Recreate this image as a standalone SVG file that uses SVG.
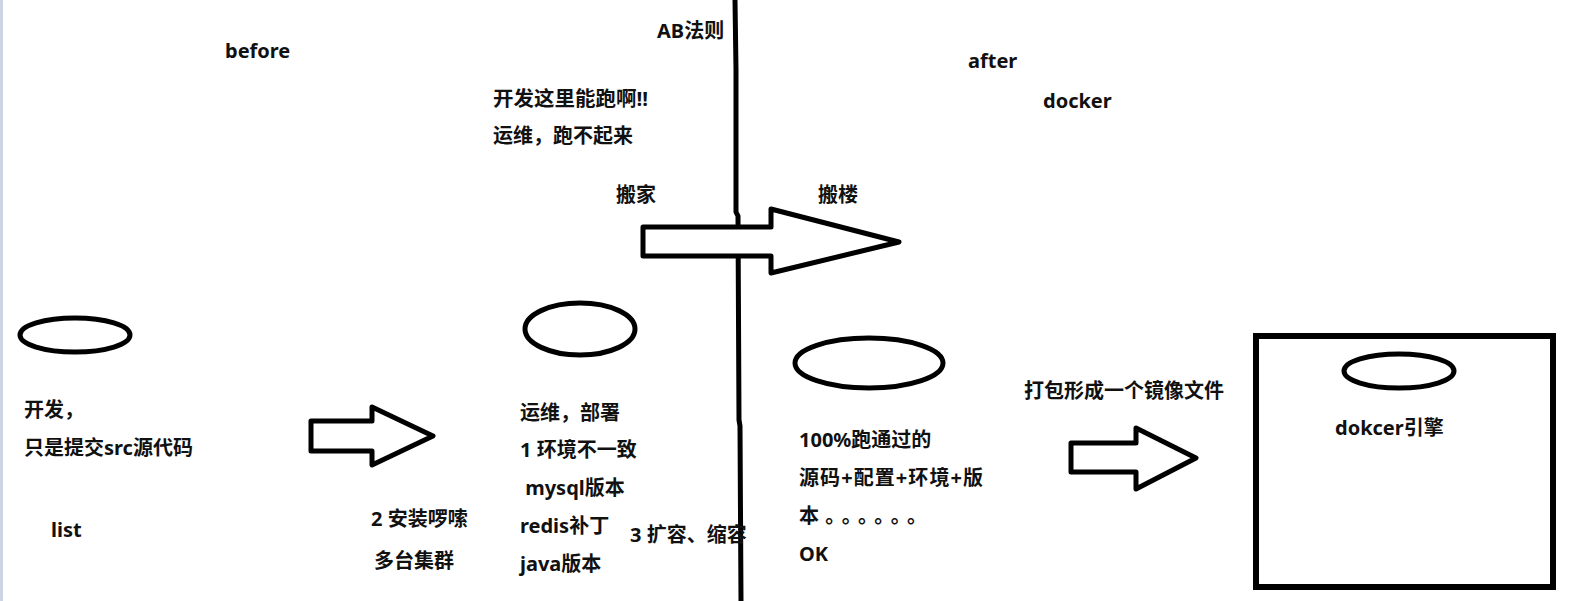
<svg xmlns="http://www.w3.org/2000/svg" width="1576" height="601" viewBox="0 0 1576 601">
<style>
text{font-family:"Noto Sans","Noto Sans CJK SC",sans-serif;font-weight:bold;font-size:20px;fill:#111}
.sh{fill:#fff;stroke:#000;stroke-width:5;stroke-linejoin:round}
.ln{fill:none;stroke:#000;stroke-width:5}
</style>
<rect x="0" y="0" width="1576" height="601" fill="#fff"/>
<rect x="0" y="0" width="3" height="601" fill="#cdd5e5"/>
<g id="labels-top">
<text x="225" y="58">before</text>
<text x="657" y="38">AB法则</text>
<text x="493" y="106" textLength="155" lengthAdjust="spacingAndGlyphs">开发这里能跑啊!!</text>
<text x="493" y="143">运维，跑不起来</text>
<text x="616" y="202">搬家</text>
<text x="818" y="202">搬楼</text>
<text x="968" y="68">after</text>
<text x="1043" y="108">docker</text>
</g>
<g id="connectors">
<path class="ln" d="M735,0 L736,70 L736,212 L738,216 L739,420 L740,426 L741,601"/>
<polygon class="sh" points="643,227 771,227 771,209 899,242 771,273 771,256 643,256"/>
<polygon class="sh" points="311,421 372,421 372,407 433,436 372,465 372,451 311,451"/>
<polygon class="sh" points="1071,443 1136,443 1136,428 1196,458 1136,489 1136,472 1071,472"/>
</g>
<g id="dev">
<ellipse class="sh" cx="75" cy="335" rx="55" ry="17"/>
<text x="24" y="417">开发，</text>
<text x="24" y="455">只是提交src源代码</text>
<text x="51" y="537">list</text>
</g>
<g id="install">
<text x="371" y="526">2 安装啰嗦</text>
<text x="374" y="568">多台集群</text>
</g>
<g id="ops">
<ellipse class="sh" cx="580" cy="329" rx="55" ry="26"/>
<text x="520" y="420">运维，部署</text>
<text x="520" y="457">1 环境不一致</text>
<text x="520" y="495" xml:space="preserve"> mysql版本</text>
<text x="520" y="533">redis补丁</text>
<text x="520" y="571">java版本</text>
<text x="630" y="542">3 扩容、缩容</text>
</g>
<g id="after">
<ellipse class="sh" cx="869" cy="363" rx="74" ry="25"/>
<text x="799" y="447">100%跑通过的</text>
<text x="799" y="485" textLength="184" lengthAdjust="spacing">源码+配置+环境+版</text>
<text x="799" y="523" textLength="128" lengthAdjust="spacing">本。。。。。。</text>
<text x="799" y="561">OK</text>
</g>
<g id="pack">
<text x="1024" y="398">打包形成一个镜像文件</text>
</g>
<g id="engine">
<rect x="1256" y="336" width="297" height="251" fill="#fff" stroke="#000" stroke-width="6"/>
<ellipse class="sh" cx="1399" cy="371" rx="55" ry="17"/>
<text x="1335" y="435">dokcer引擎</text>
</g>
</svg>
